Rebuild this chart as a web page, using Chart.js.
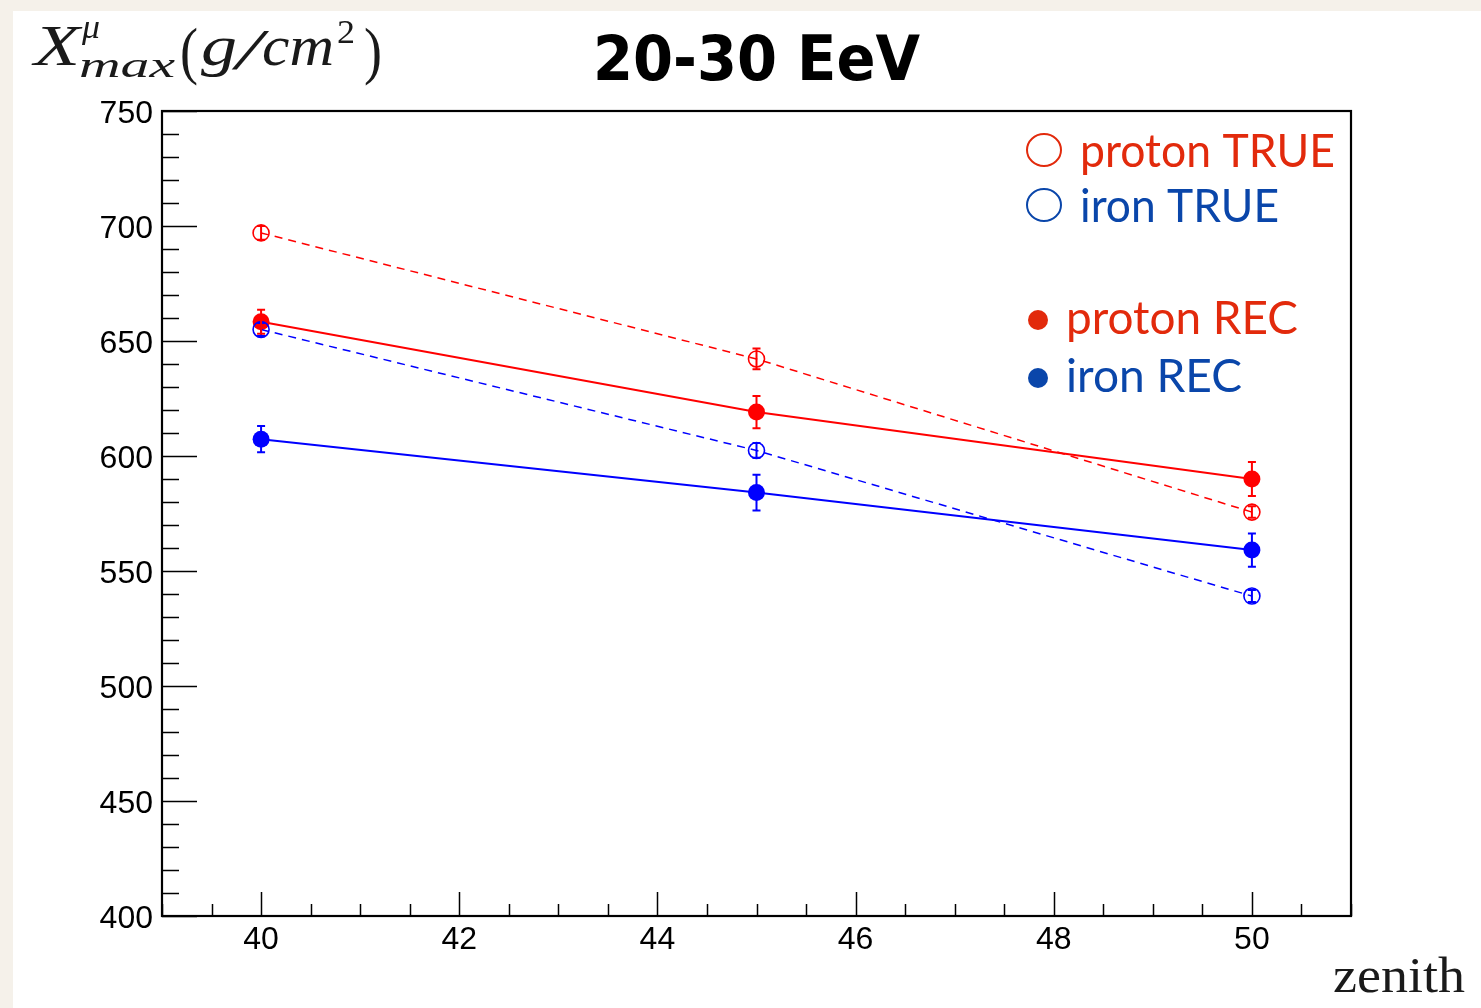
<!DOCTYPE html>
<html lang="en">
<head>
  <meta charset="UTF-8" />
  <title>Xmax mu vs zenith, 20-30 EeV</title>
  <script src="https://cdn.jsdelivr.net/npm/chart.js"></script>
  <style>
    body { margin: 0; background: #f5f1ea; }
    #wrap { width: 1481px; height: 1008px; }
  </style>
</head>
<body>
  <div id="wrap"><canvas id="xmaxChart" width="1481" height="1008"></canvas></div>

  <script>
    // zenith angles (deg)
    const zenith = [40, 45, 50];

    // Xmax^mu (g/cm2)
    const protonTrue = [697, 642.2, 575.6];
    const ironTrue   = [655, 602.4, 539.1];
    const protonRec  = [658.4, 619.1, 590];
    const ironRec    = [607.3, 584.1, 559.1];

    const protonTrueErr = [3, 4.5, 2.5];
    const ironTrueErr   = [2.8, 3.2, 2.6];
    const protonRecErr  = [5.2, 7, 7.4];
    const ironRecErr    = [5.7, 7.8, 7.2];

    const xLabels = [40, 42, 44, 46, 48, 50];
    const yLabels = [400, 450, 500, 550, 600, 650, 700, 750];

    const pts = ys => zenith.map((x, i) => ({ x: x, y: ys[i] }));

    // draw text squeezed / stretched to a given width
    function fitText(ctx, str, x, base, width, font) {
      ctx.save();
      ctx.font = font;
      ctx.textAlign = 'left';
      ctx.textBaseline = 'alphabetic';
      const w = ctx.measureText(str).width;
      ctx.translate(x, base);
      ctx.scale(width / w, 1);
      ctx.fillText(str, 0, 0);
      ctx.restore();
    }

    const background = {
      id: 'background',
      beforeDraw(chart) {
        const ctx = chart.ctx;
        ctx.save();
        ctx.fillStyle = '#f5f1ea';
        ctx.fillRect(0, 0, chart.width, chart.height);
        ctx.fillStyle = '#ffffff';
        ctx.fillRect(13, 11, chart.width - 13, chart.height - 11);
        ctx.restore();
      }
    };

    const errorBars = {
      id: 'errorBars',
      afterDatasetsDraw(chart) {
        const ctx = chart.ctx;
        const yScale = chart.scales.y;
        ctx.save();
        chart.data.datasets.forEach((ds, di) => {
          const meta = chart.getDatasetMeta(di);
          ctx.strokeStyle = ds.borderColor;
          ctx.lineWidth = 2;
          meta.data.forEach((pt, i) => {
            const v = ds.data[i].y, e = ds.errors[i];
            const top = yScale.getPixelForValue(v + e);
            const bot = yScale.getPixelForValue(v - e);
            ctx.beginPath();
            ctx.moveTo(pt.x, top); ctx.lineTo(pt.x, bot);
            ctx.moveTo(pt.x - 4, top); ctx.lineTo(pt.x + 4, top);
            ctx.moveTo(pt.x - 4, bot); ctx.lineTo(pt.x + 4, bot);
            ctx.stroke();
          });
        });
        ctx.restore();
      }
    };

    const frame = {
      id: 'frame',
      afterDraw(chart) {
        const ctx = chart.ctx;
        const a = chart.chartArea;
        const xs = chart.scales.x, ys = chart.scales.y;
        ctx.save();
        ctx.strokeStyle = '#000';
        ctx.lineWidth = 1.5;
        ctx.beginPath();
        xs.ticks.forEach(t => {
          const px = Math.round(xs.getPixelForValue(t.value)) + 0.5;
          const len = xLabels.includes(t.value) ? 24 : 12;
          ctx.moveTo(px, a.bottom); ctx.lineTo(px, a.bottom - len);
        });
        ys.ticks.forEach(t => {
          const py = Math.round(ys.getPixelForValue(t.value)) + 0.5;
          const len = yLabels.includes(t.value) ? 35 : 17;
          ctx.moveTo(a.left, py); ctx.lineTo(a.left + len, py);
        });
        ctx.stroke();
        ctx.lineWidth = 2.2;
        ctx.strokeRect(a.left, a.top, a.right - a.left, a.bottom - a.top);

        // title
        ctx.fillStyle = '#000';
        fitText(ctx, '20-30 EeV', 593, 80, 327, 'bold 62px "DejaVu Sans"');

        // y title, math style
        ctx.fillStyle = '#1a1a1a';
        fitText(ctx, 'X', 34, 65, 46, 'italic 57px "Liberation Serif"');
        fitText(ctx, 'μ', 82, 38, 18, 'italic 34px "Liberation Serif"');
        fitText(ctx, 'max', 79, 77, 96, 'italic 36px "Liberation Serif"');
        fitText(ctx, '(', 180, 72, 18, '64px "Liberation Serif"');
        fitText(ctx, 'g', 201, 65, 36, 'italic 57px "Liberation Serif"');
        fitText(ctx, '/', 236, 69, 26, 'italic 57px "Liberation Serif"');
        fitText(ctx, 'cm', 262, 65, 72, 'italic 57px "Liberation Serif"');
        fitText(ctx, '2', 337, 43, 18, '34px "Liberation Serif"');
        fitText(ctx, ')', 364, 72, 18, '64px "Liberation Serif"');

        // x title
        fitText(ctx, 'zenith', 1333, 992, 132, '50px "Liberation Serif"');

        // legend
        const red = '#e22a0c', blue = '#0a46aa';
        const ds = chart.data.datasets;
        const legendFont = '47px Lato';
        ctx.lineWidth = 2;
        ctx.strokeStyle = red;
        ctx.beginPath(); ctx.ellipse(1044, 150, 17, 16, 0, 0, Math.PI * 2); ctx.stroke();
        ctx.strokeStyle = blue;
        ctx.beginPath(); ctx.ellipse(1044, 205, 17, 16, 0, 0, Math.PI * 2); ctx.stroke();
        ctx.fillStyle = red;
        ctx.beginPath(); ctx.arc(1038, 320, 10, 0, Math.PI * 2); ctx.fill();
        ctx.fillStyle = blue;
        ctx.beginPath(); ctx.arc(1038, 378, 10, 0, Math.PI * 2); ctx.fill();

        ctx.fillStyle = red;
        fitText(ctx, ds[0].label, 1080, 167, 255, legendFont);
        ctx.fillStyle = blue;
        fitText(ctx, ds[1].label, 1080, 222, 199, legendFont);
        ctx.fillStyle = red;
        fitText(ctx, ds[2].label, 1066, 334, 232, legendFont);
        ctx.fillStyle = blue;
        fitText(ctx, ds[3].label, 1066, 392, 176, legendFont);
        ctx.restore();
      }
    };

    const ctx = document.getElementById('xmaxChart').getContext('2d');
    new Chart(ctx, {
      type: 'line',
      data: {
        datasets: [
          {
            label: 'proton TRUE', data: pts(protonTrue), errors: protonTrueErr,
            borderColor: '#ff0000', backgroundColor: 'rgba(0,0,0,0)',
            borderWidth: 1.5, borderDash: [8, 6],
            pointRadius: 8, pointBorderWidth: 1.6, pointBorderColor: '#ff0000', pointBackgroundColor: 'rgba(0,0,0,0)'
          },
          {
            label: 'iron TRUE', data: pts(ironTrue), errors: ironTrueErr,
            borderColor: '#0000ff', backgroundColor: 'rgba(0,0,0,0)',
            borderWidth: 1.5, borderDash: [8, 6],
            pointRadius: 8, pointBorderWidth: 1.6, pointBorderColor: '#0000ff', pointBackgroundColor: 'rgba(0,0,0,0)'
          },
          {
            label: 'proton REC', data: pts(protonRec), errors: protonRecErr,
            borderColor: '#ff0000', backgroundColor: '#ff0000',
            borderWidth: 2,
            pointRadius: 8.5, pointBorderWidth: 0, pointBackgroundColor: '#ff0000'
          },
          {
            label: 'iron REC', data: pts(ironRec), errors: ironRecErr,
            borderColor: '#0000ff', backgroundColor: '#0000ff',
            borderWidth: 2,
            pointRadius: 8.5, pointBorderWidth: 0, pointBackgroundColor: '#0000ff'
          }
        ]
      },
      options: {
        responsive: false,
        animation: false,
        layout: { padding: { left: 0, top: 111, right: 130, bottom: 0 } },
        plugins: { legend: { display: false }, tooltip: { enabled: false } },
        scales: {
          x: {
            type: 'linear', min: 39, max: 51,
            grid: { display: false, drawTicks: false },
            border: { display: false },
            afterFit: s => { s.height = 92; },
            ticks: {
              stepSize: 0.5, autoSkip: false, maxRotation: 0, padding: 5,
              color: '#000', font: { family: '"Liberation Sans"', size: 32 },
              callback: v => xLabels.includes(v) ? String(v) : ''
            }
          },
          y: {
            type: 'linear', min: 400, max: 750,
            grid: { display: false, drawTicks: false },
            border: { display: false },
            afterFit: s => { s.width = 162; },
            ticks: {
              stepSize: 10, autoSkip: false, padding: 9, labelOffset: 3,
              color: '#000', font: { family: '"Liberation Sans"', size: 32 },
              callback: v => yLabels.includes(v) ? String(v) : ''
            }
          }
        }
      },
      plugins: [background, errorBars, frame]
    });
  </script>
</body>
</html>
